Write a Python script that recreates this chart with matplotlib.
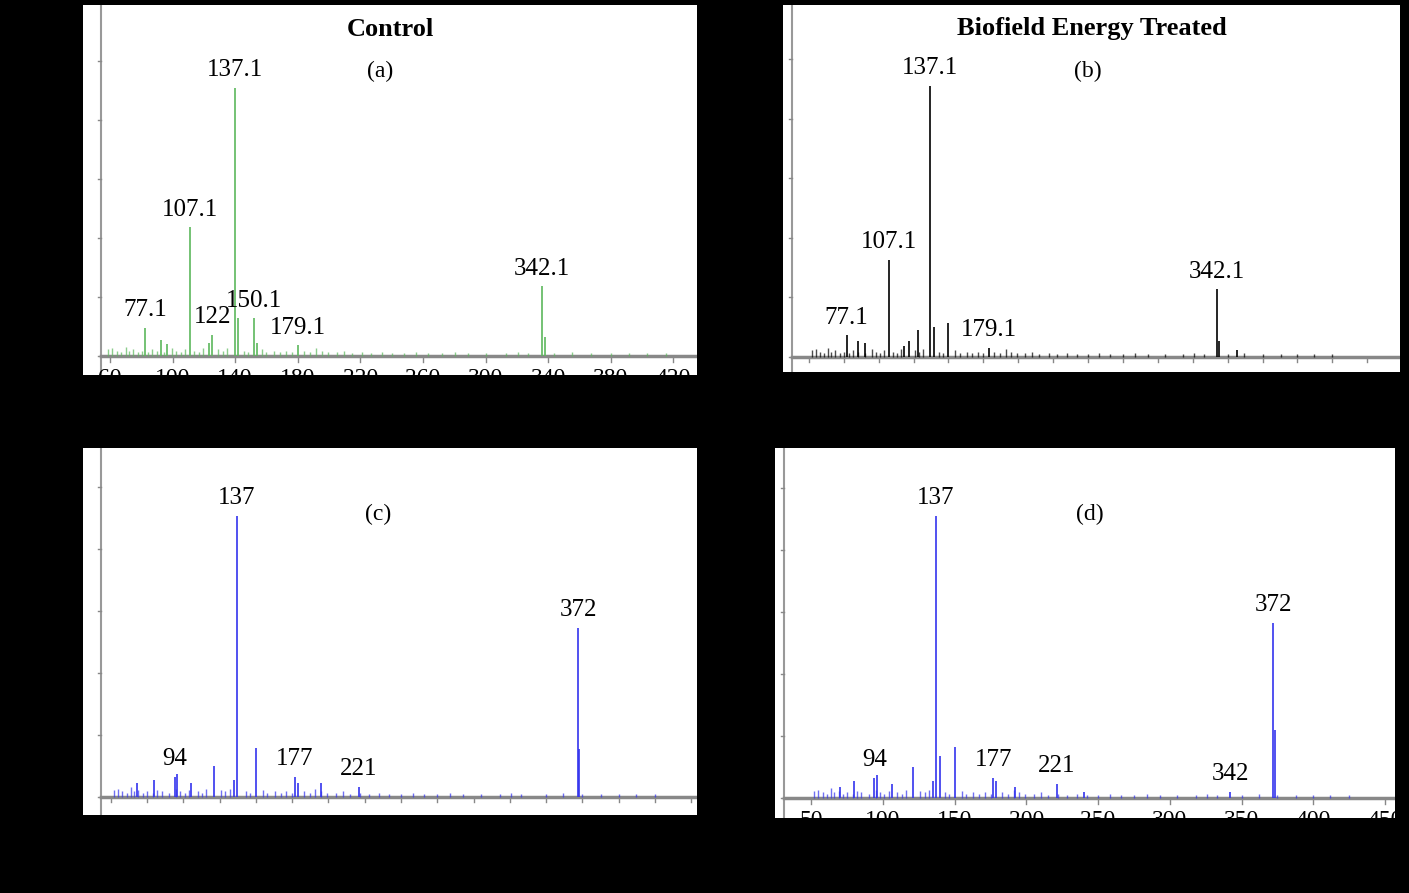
import matplotlib.pyplot as plt
import numpy as np

plt.rcParams['font.family'] = ['Liberation Serif', 'DejaVu Serif']

W, H = 1409, 893

# main peaks (m/z, relative intensity) per panel
a_mz = [77.1, 88, 92, 107.1, 120, 122, 137.1, 139, 150.1, 152, 179.1, 342.1, 344]
a_int = [10.5, 6, 4.5, 48, 5, 8, 100, 14, 14, 5, 4, 26, 7]
a_labels = {77.1: "77.1", 107.1: "107.1", 122: "122", 137.1: "137.1", 150.1: "150.1", 179.1: "179.1", 342.1: "342.1"}

b_mz = [77.1, 85, 90, 107.1, 118, 122, 128, 137.1, 140, 150, 179.1, 342.1, 344, 357]
b_int = [8, 6, 5, 36, 4, 6, 10, 100, 11, 12.5, 3.5, 25, 6, 2.5]
b_labels = {77.1: "77.1", 107.1: "107.1", 137.1: "137.1", 179.1: "179.1", 342.1: "342.1"}

c_mz = [68, 80, 94, 96, 105, 121, 135, 137, 150, 177, 179, 195, 221, 372, 373]
c_int = [5, 6, 7, 8, 5, 11, 6, 100, 17.5, 7, 5, 5, 3.5, 60, 17]
c_labels = {94: "94", 137: "137", 177: "177", 221: "221", 372: "372"}

d_mz = [70, 80, 94, 96, 106, 121, 135, 137, 140, 150, 177, 179, 192, 221, 240, 342, 372, 373]
d_int = [4, 6, 7, 8, 5, 11, 6, 100, 15, 18, 7, 6, 4, 5, 2, 2, 62, 24]
d_labels = {94: "94", 137: "137", 177: "177", 221: "221", 342: "342", 372: "372"}

# low-level background peaks
noise_mz = [52, 55, 58, 61, 64, 66, 69, 72, 75, 79, 82, 85, 90, 95, 98, 101, 104, 110, 113, 116,
            126, 129, 132, 143, 146, 155, 158, 163, 167, 171, 175, 183, 187, 191, 195, 199, 205,
            210, 215, 222, 228, 235, 242, 250, 258, 266, 275, 284, 293, 305, 318, 326, 333,
            350, 362, 375, 388, 400, 412, 425]
noise_int = [2.5, 3, 2, 1.5, 3.5, 2, 2.5, 1.5, 2, 1.5, 2.5, 2, 1.5, 3, 2, 1.5, 2.5, 2, 1.5, 3,
             2.5, 2, 3, 2, 1.5, 2.5, 1.5, 2, 1.5, 2, 1.5, 2, 1.5, 3, 2, 1.5, 1.5,
             2, 1, 1.5, 1, 1.5, 1, 1, 1.5, 1, 1, 1.5, 1, 1, 1, 1.5, 1,
             1, 1.5, 1, 1, 1, 1, 1]

# panel (a) tick labels sit on a slightly different scale than its peaks
a_ticklabels = [60, 100, 140, 180, 220, 260, 300, 340, 380, 420]
a_tickpos = [53.6, 95.4, 137.2, 179, 220.8, 262.6, 304.4, 346.2, 388, 429.8]
d_ticks = [50, 100, 150, 200, 250, 300, 350, 400, 450]

panels = [
    dict(box=(83, 5, 697, 375), base=356, xlim=(35.6, 445.6), ymax=131, mz=a_mz, it=a_int, lab=a_labels,
         color="#5cb85c", tag="(a)", tagx=234, title="Control", ticks=a_tickpos, tl=a_ticklabels, ax0=92),
    dict(box=(783, 5, 1400, 372), base=357, xlim=(31.5, 473.5), ymax=130, mz=b_mz, it=b_int, lab=b_labels,
         color="black", tag="(b)", tagx=250, title="Biofield Energy Treated", ticks=list(range(50, 460, 25)),
         tl=None, ax0=783),
    dict(box=(83, 448, 697, 815), base=797, xlim=(30.9, 454), ymax=124, mz=c_mz, it=c_int, lab=c_labels,
         color="#3333ee", tag="(c)", tagx=234, title=None, ticks=list(range(50, 460, 25)), tl=None, ax0=92),
    dict(box=(775, 448, 1395, 818), base=798, xlim=(24.7, 457), ymax=124, mz=d_mz, it=d_int, lab=d_labels,
         color="#3333ee", tag="(d)", tagx=244, title=None, ticks=d_ticks, tl=d_ticks, ax0=775),
]

fig = plt.figure(figsize=(W / 100, H / 100), dpi=100, facecolor="black")

for p in panels:
    x0, y0, x1, y1 = p["box"]
    ax = fig.add_axes([x0 / W, 1 - y1 / H, (x1 - x0) / W, (y1 - y0) / H])
    ax.set_facecolor("white")
    base_frac = (y1 - p["base"]) / (y1 - y0)
    ymin = -p["ymax"] * base_frac / (1 - base_frac)
    ax.set_xlim(*p["xlim"])
    ax.set_ylim(ymin, p["ymax"])
    for s in ax.spines.values():
        s.set_visible(False)
    ax.set_xticks([])
    ax.set_yticks([])

    x_left = p["xlim"][0] + (p["ax0"] + 9 - x0) / (x1 - x0) * (p["xlim"][1] - p["xlim"][0])
    ax.axvline(x_left, color="#999999", lw=1.5)
    ax.axhline(0, xmin=(x_left - p["xlim"][0]) / (p["xlim"][1] - p["xlim"][0]), color="#888888", lw=2.5)
    for yt in np.arange(0, p["ymax"], 22):
        ax.plot([x_left - 2, x_left], [yt, yt], color="#888888", lw=1)
    tick_len = -ymin * 0.3
    for i, xt in enumerate(p["ticks"]):
        ax.plot([xt, xt], [0, -tick_len], color="#888888", lw=1)
        if p["tl"]:
            ax.text(xt, ymin * 0.62, str(p["tl"][i]), ha="center", va="top", fontsize=17, color="black")

    ax.vlines(noise_mz, 0, noise_int, color=p["color"], lw=1.0, alpha=0.7)
    ax.vlines(p["mz"], 0, p["it"], color=p["color"], lw=1.2)
    for m, t in p["lab"].items():
        v = p["it"][p["mz"].index(m)]
        ax.text(m, v + 2.5, t, ha="center", va="bottom", fontsize=18)

    ax.text(p["tagx"], p["ymax"] * 0.81, p["tag"], ha="center", va="center", fontsize=17)
    if p["title"]:
        ax.text(0.5, 0.935, p["title"], transform=ax.transAxes, ha="center", va="center",
                fontsize=19, fontweight="bold")

fig.savefig("out.png", dpi=100, facecolor="black")
